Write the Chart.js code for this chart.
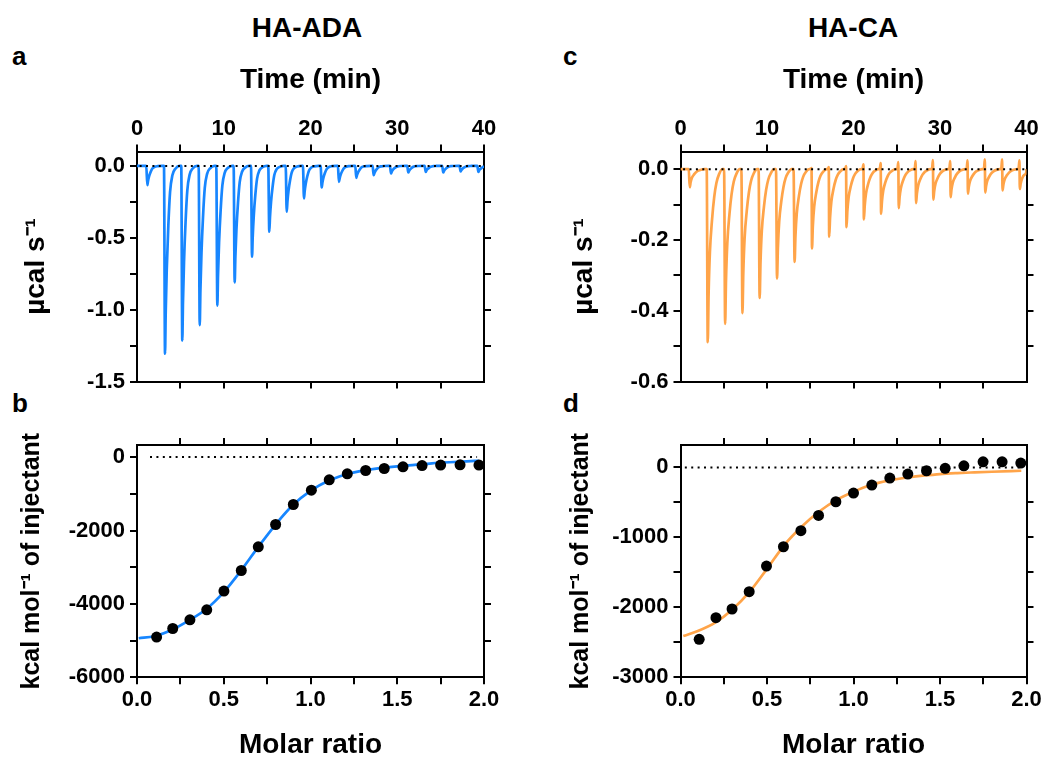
<!DOCTYPE html>
<html>
<head>
<meta charset="utf-8">
<script src="https://cdn.jsdelivr.net/npm/chart.js@4.4.1/dist/chart.umd.min.js"></script>
<style>
  body { margin: 0; background: #fff; width: 1047px; height: 763px; position: relative; overflow: hidden;
         font-family: "Liberation Sans", Arial, sans-serif; font-weight: bold; color: #000; }
  canvas { position: absolute; left: 0; top: 0; }
  .head { position: absolute; width: 240px; text-align: center; font-size: 28px; line-height: 34px; }
  .letter { position: absolute; font-size: 26px; line-height: 30px; }
</style>
</head>
<body>
<div class="head" style="left:187px; top:11px;">HA-ADA</div>
<div class="head" style="left:733px; top:11px;">HA-CA</div>
<div class="letter" style="left:12px; top:41px;">a</div>
<div class="letter" style="left:12px; top:388px;">b</div>
<div class="letter" style="left:563px; top:41px;">c</div>
<div class="letter" style="left:563px; top:388px;">d</div>

<canvas id="chartA" width="1047" height="763"></canvas>
<canvas id="chartB" width="1047" height="763"></canvas>
<canvas id="chartC" width="1047" height="763"></canvas>
<canvas id="chartD" width="1047" height="763"></canvas>

<script>
// ---- tick positions and labels ----
const timeTicks = [0, 5, 10, 15, 20, 25, 30, 35, 40];
const timeLabels = ['0', '', '10', '', '20', '', '30', '', '40'];
const ratioTicks = [0, 0.25, 0.5, 0.75, 1, 1.25, 1.5, 1.75, 2];
const ratioLabels = ['0.0', '', '0.5', '', '1.0', '', '1.5', '', '2.0'];
const powerTicksA = [-1.5, -1.25, -1, -0.75, -0.5, -0.25, 0];
const powerLabelsA = ['-1.5', '', '-1.0', '', '-0.5', '', '0.0'];
const powerTicksC = [-0.6, -0.5, -0.4, -0.3, -0.2, -0.1, 0];
const powerLabelsC = ['-0.6', '', '-0.4', '', '-0.2', '', '0.0'];
const heatTicksB = [-6000, -5000, -4000, -3000, -2000, -1000, 0];
const heatLabelsB = ['-6000', '', '-4000', '', '-2000', '', '0'];
const heatTicksD = [-3000, -2500, -2000, -1500, -1000, -500, 0];
const heatLabelsD = ['-3000', '', '-2000', '', '-1000', '', '0'];

// ---- raw thermogram, HA-ADA (a) ----
const injTimeA = [1.19, 3.23, 5.22, 7.23, 9.26, 11.26, 13.26, 15.25, 17.26, 19.25,
                  21.29, 23.28, 25.28, 27.28, 29.28, 31.27, 33.28, 35.30, 37.30, 39.35];
const peakA = [-0.134, -1.307, -1.215, -1.108, -0.972, -0.810, -0.632, -0.458, -0.319, -0.226,
               -0.150, -0.111, -0.083, -0.065, -0.053, -0.046, -0.042, -0.046, -0.039, -0.042];
const spikeOffsetA = [-0.12, 0, 0.08, 0.2, 0.38, 0.58, 0.85, 1.2, 1.7];
const spikeShapeA  = [0, 1, 0.78, 0.55, 0.32, 0.14, 0.05, 0.015, 0];

// ---- raw thermogram, HA-CA (c) ----
const injTimeC = [1.07, 3.15, 5.16, 7.16, 9.15, 11.16, 13.19, 15.20, 17.19, 19.19,
                  21.20, 23.19, 25.23, 27.23, 29.23, 31.23, 33.23, 35.23, 37.23, 39.23];
const peakC = [-0.051, -0.489, -0.437, -0.407, -0.364, -0.309, -0.262, -0.224, -0.191, -0.164,
               -0.142, -0.126, -0.110, -0.096, -0.086, -0.079, -0.069, -0.066, -0.060, -0.056];
const bumpC = [0, 0, 0, 0, 0, 0, 0, 0.003, 0.006, 0.009,
               0.014, 0.017, 0.020, 0.023, 0.026, 0.023, 0.025, 0.028, 0.028, 0.025];
const spikeOffsetC = [-0.12, 0, 0.1, 0.25, 0.5, 0.75, 1.0, 1.3, 1.7];
const spikeShapeC  = [0, 1, 0.72, 0.48, 0.29, 0.16, 0.08, 0.03, 0];

// ---- integrated heats, HA-ADA (b) ----
const ratioB = [0.113, 0.206, 0.305, 0.402, 0.501, 0.601, 0.699, 0.799, 0.901, 1.005,
                1.108, 1.212, 1.318, 1.425, 1.533, 1.643, 1.750, 1.862, 1.971];
const heatB = [-4905, -4670, -4433, -4161, -3651, -3090, -2444, -1836, -1291, -900,
               -619, -455, -365, -310, -264, -229, -218, -210, -218];
const fitRatioB = [0.01, 0.1, 0.2, 0.3, 0.4, 0.5, 0.6, 0.7, 0.8, 0.9, 1.0,
                   1.1, 1.2, 1.3, 1.4, 1.5, 1.6, 1.7, 1.8, 1.9, 1.97];
const fitHeatB = [-4935, -4880, -4710, -4450, -4140, -3680, -3090, -2440, -1830, -1300, -920,
                  -650, -480, -370, -300, -250, -210, -170, -140, -115, -100];

// ---- integrated heats, HA-CA (d) ----
const ratioD = [0.108, 0.205, 0.298, 0.397, 0.497, 0.595, 0.696, 0.798, 0.898, 1.000,
                1.106, 1.210, 1.314, 1.422, 1.530, 1.638, 1.749, 1.859, 1.967];
const heatD = [-2457, -2148, -2024, -1776, -1410, -1134, -905, -686, -491, -367,
               -253, -153, -96, -48, -14, 23, 80, 80, 61];
const fitRatioD = [0.016, 0.1, 0.2, 0.3, 0.4, 0.5, 0.6, 0.7, 0.8, 0.9,
                   1.0, 1.1, 1.2, 1.3, 1.4, 1.5, 1.6, 1.7, 1.8, 1.97];
const fitHeatD = [-2410, -2340, -2220, -2030, -1776, -1450, -1110, -848, -634, -467,
                  -348, -252, -190, -148, -119, -95, -81, -71, -62, -48];

// zero reference lines (start, end on the x axis)
const zeroTime = [0.3, 39.8];
const zeroRatioB = [0.075, 1.96];
const zeroRatioD = [0.025, 1.967];

const BLUE = '#1786ff';
const ORANGE = '#ffa449';
const BLACK = '#000';
const FONT = '"Liberation Sans", Arial, sans-serif';
const tickFont = { family: FONT, size: 22, weight: 'bold', lineHeight: 1.2 };

function buildTrace(times, peaks, offsets, shape, bumps) {
    const pts = [{ x: 0, y: 0 }];
    times.forEach((t, i) => {
        const hasBump = bumps && bumps[i] > 0;
        if (hasBump) {
            pts.push({ x: t - 0.15, y: 0 });
            pts.push({ x: t - 0.05, y: bumps[i] });
        }
        offsets.forEach((o, k) => {
            if (hasBump && o < 0) return;
            if (t + o <= 40) pts.push({ x: t + o, y: peaks[i] * shape[k] });
        });
    });
    pts.push({ x: 40, y: 0 });
    return pts;
}

function zip(xs, ys) {
    return xs.map((x, i) => ({ x: x, y: ys[i] }));
}

// mirror axes: no tick on the corners (and optionally none at zero)
function mirrorColor(skipZero) {
    return ctx => {
        const n = ctx.scale.ticks.length;
        if (ctx.index === 0 || ctx.index === n - 1) return 'rgba(0,0,0,0)';
        if (skipZero && ctx.tick && Math.abs(ctx.tick.value) < 1e-9) return 'rgba(0,0,0,0)';
        return BLACK;
    };
}

function makeAxis(o) {
    return {
        type: 'linear',
        axis: o.axis,
        position: o.position,
        min: o.min,
        max: o.max,
        afterBuildTicks: s => { s.ticks = o.ticks.map(v => ({ value: v })); },
        afterFit: s => { if (o.axis === 'x') s.height = o.size; else s.width = o.size; },
        border: { display: true, color: BLACK, width: 2 },
        grid: { display: true, drawOnChartArea: false, drawTicks: true, tickLength: 7,
                lineWidth: 2, color: o.tickColor || BLACK },
        ticks: { display: !!o.labels, autoSkip: false, maxRotation: 0, minRotation: 0,
                 padding: o.pad || 0, color: BLACK, font: tickFont,
                 callback: (v, i) => (o.labels ? o.labels[i] : '') },
        title: o.title ? { display: true, text: o.title, color: BLACK, padding: 0,
                           font: { family: FONT, size: o.titleSize || 28, weight: 'bold', lineHeight: 1.2 } }
                       : { display: false }
    };
}

function lineSet(data, color, width, order) {
    return { data: data, showLine: true, borderColor: color, borderWidth: width, pointRadius: 0,
             cubicInterpolationMode: 'monotone', borderJoinStyle: 'round', order: order };
}

function zeroSet(xs) {
    return { data: [{ x: xs[0], y: 0 }, { x: xs[1], y: 0 }], showLine: true, borderColor: BLACK,
             borderWidth: 2, borderDash: [2, 4.4], pointRadius: 0, order: 0 };
}

function dotSet(xs, ys) {
    return { data: zip(xs, ys), showLine: false, pointRadius: 5.5, pointBackgroundColor: BLACK,
             pointBorderWidth: 0, clip: false, order: 0 };
}

function drawPanel(id, area, sizes, scales, datasets) {
    new Chart(document.getElementById(id), {
        type: 'scatter',
        data: { datasets: datasets },
        options: {
            responsive: false,
            animation: false,
            events: [],
            layout: { padding: {
                left: area.l - sizes.left,
                right: 1047 - area.r - sizes.right,
                top: area.t - sizes.top,
                bottom: 763 - area.b - sizes.bottom
            } },
            plugins: { legend: { display: false }, tooltip: { enabled: false } },
            scales: scales
        }
    });
}

// a
drawPanel('chartA', { l: 137, r: 484, t: 151.5, b: 381.5 },
    { left: 117.8, right: 10, top: 88.3, bottom: 10 },
    {
        x: makeAxis({ axis: 'x', position: 'top', min: 0, max: 40, ticks: timeTicks, size: 88.3, pad: 2,
                      labels: timeLabels, title: 'Time (min)' }),
        x2: makeAxis({ axis: 'x', position: 'bottom', min: 0, max: 40, ticks: timeTicks, size: 10,
                       tickColor: mirrorColor(false) }),
        y: makeAxis({ axis: 'y', position: 'left', min: -1.5, max: 0.1, ticks: powerTicksA, size: 117.8, pad: 5,
                      labels: powerLabelsA, title: 'µcal s⁻¹' }),
        y2: makeAxis({ axis: 'y', position: 'right', min: -1.5, max: 0.1, ticks: powerTicksA, size: 10,
                       tickColor: mirrorColor(true) })
    },
    [zeroSet(zeroTime), lineSet(buildTrace(injTimeA, peakA, spikeOffsetA, spikeShapeA), BLUE, 2.7, 1)]
);

// b
drawPanel('chartB', { l: 137, r: 484, t: 445, b: 677.3 },
    { left: 119.5, right: 10, top: 10, bottom: 84.5 },
    {
        x: makeAxis({ axis: 'x', position: 'bottom', min: 0, max: 2, ticks: ratioTicks, size: 84.5, pad: 2.5,
                      labels: ratioLabels, title: 'Molar ratio' }),
        x2: makeAxis({ axis: 'x', position: 'top', min: 0, max: 2, ticks: ratioTicks, size: 10,
                       tickColor: mirrorColor(false) }),
        y: makeAxis({ axis: 'y', position: 'left', min: -6000, max: 330, ticks: heatTicksB, size: 119.5, pad: 5,
                      labels: heatLabelsB, title: 'kcal mol⁻¹ of injectant', titleSize: 25 }),
        y2: makeAxis({ axis: 'y', position: 'right', min: -6000, max: 330, ticks: heatTicksB, size: 10,
                       tickColor: mirrorColor(true) })
    },
    [dotSet(ratioB, heatB), lineSet(zip(fitRatioB, fitHeatB), BLUE, 2.7, 1), zeroSet(zeroRatioB)]
);

// c
drawPanel('chartC', { l: 680.5, r: 1026.5, t: 151.5, b: 381.5 },
    { left: 112.8, right: 10, top: 88.3, bottom: 10 },
    {
        x: makeAxis({ axis: 'x', position: 'top', min: 0, max: 40, ticks: timeTicks, size: 88.3, pad: 2,
                      labels: timeLabels, title: 'Time (min)' }),
        x2: makeAxis({ axis: 'x', position: 'bottom', min: 0, max: 40, ticks: timeTicks, size: 10,
                       tickColor: mirrorColor(false) }),
        y: makeAxis({ axis: 'y', position: 'left', min: -0.6, max: 0.05, ticks: powerTicksC, size: 112.8, pad: 5,
                      labels: powerLabelsC, title: 'µcal s⁻¹' }),
        y2: makeAxis({ axis: 'y', position: 'right', min: -0.6, max: 0.05, ticks: powerTicksC, size: 10,
                       tickColor: mirrorColor(true) })
    },
    [zeroSet(zeroTime), lineSet(buildTrace(injTimeC, peakC, spikeOffsetC, spikeShapeC, bumpC), ORANGE, 2.7, 1)]
);

// d
drawPanel('chartD', { l: 680.5, r: 1026.5, t: 445, b: 677.3 },
    { left: 114.5, right: 10, top: 10, bottom: 84.5 },
    {
        x: makeAxis({ axis: 'x', position: 'bottom', min: 0, max: 2, ticks: ratioTicks, size: 84.5, pad: 2.5,
                      labels: ratioLabels, title: 'Molar ratio' }),
        x2: makeAxis({ axis: 'x', position: 'top', min: 0, max: 2, ticks: ratioTicks, size: 10,
                       tickColor: mirrorColor(false) }),
        y: makeAxis({ axis: 'y', position: 'left', min: -3000, max: 320, ticks: heatTicksD, size: 114.5, pad: 5,
                      labels: heatLabelsD, title: 'kcal mol⁻¹ of injectant', titleSize: 25 }),
        y2: makeAxis({ axis: 'y', position: 'right', min: -3000, max: 320, ticks: heatTicksD, size: 10,
                       tickColor: mirrorColor(true) })
    },
    [dotSet(ratioD, heatD), lineSet(zip(fitRatioD, fitHeatD), ORANGE, 2.7, 1), zeroSet(zeroRatioD)]
);
</script>
</body>
</html>
